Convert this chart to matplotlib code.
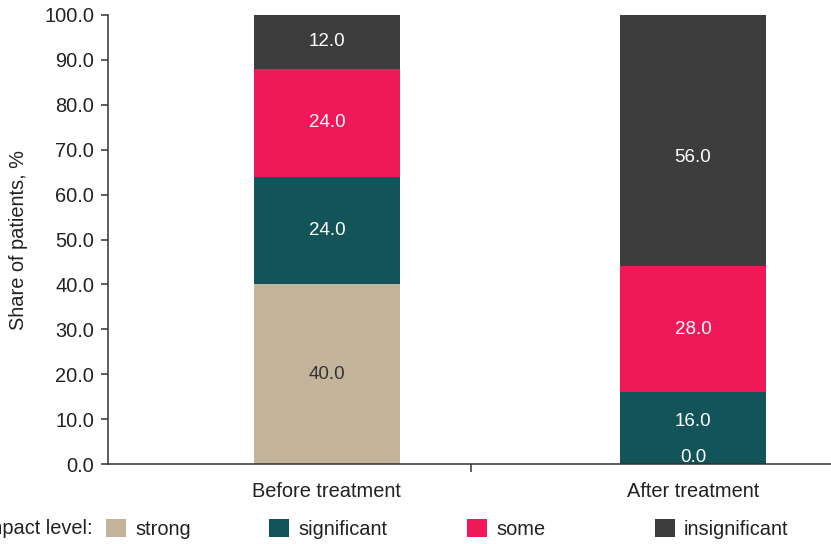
import matplotlib
matplotlib.use('Agg')
import matplotlib.pyplot as plt
from matplotlib.patches import Patch
import numpy as np

plt.rcParams['font.family'] = ['Liberation Sans', 'DejaVu Sans']

# data
categories = ['Before treatment', 'After treatment']
levels = ['strong', 'significant', 'some', 'insignificant']
strong = [40.0, 0.0]
significant = [24.0, 16.0]
some = [24.0, 28.0]
insignificant = [12.0, 56.0]

colors = ['#c4b49b', '#12545a', '#ee1956', '#3d3d3d']
label_colors = ['#333333', 'white', 'white', 'white']
txt = '#222222'
# small label shifts (points) like in the original
nudge = {(1, 'strong'): 5, (1, 'significant'): 5, (1, 'insignificant'): -12}

fig = plt.figure(figsize=(8.31, 5.44), dpi=100)
ax = fig.add_axes([108/831, 1 - 464/544, (831 - 108)/831, (464 - 15)/544])

x = np.arange(len(categories))
bottom = np.zeros(len(categories))
for name, vals, col, lc in zip(levels, [strong, significant, some, insignificant], colors, label_colors):
    vals = np.array(vals)
    ax.bar(x, vals, width=0.4, bottom=bottom, color=col, zorder=2)
    for xi, b, v in zip(x, bottom, vals):
        ax.annotate('%.1f' % v, (xi, b + v / 2), xytext=(0, nudge.get((xi, name), 0)),
                    textcoords='offset points', ha='center', va='center',
                    color='white' if v == 0 else lc, fontsize=13.5)
    bottom += vals

ax.set_xlim(-0.598, 1.377)
ax.set_ylim(0, 100)
ax.set_yticks(np.arange(0, 101, 10))
ax.set_yticklabels(['%.1f' % t for t in np.arange(0, 101, 10)])
ax.set_xticks(x)
ax.set_xticklabels(categories)
ax.set_xticks([0.393], minor=True)
ax.tick_params(axis='x', which='major', length=0, pad=13, labelsize=14.4, labelcolor=txt)
ax.tick_params(axis='x', which='minor', length=6, width=1.1, color='#333333')
ax.tick_params(axis='y', length=5, width=1.1, color='#333333', pad=5, labelsize=14.4, labelcolor=txt)

for s in ['top', 'right']:
    ax.spines[s].set_visible(False)
for s in ['left', 'bottom']:
    ax.spines[s].set_color('#333333')
    ax.spines[s].set_linewidth(1.1)
ax.spines['bottom'].set_zorder(3)

ax.set_ylabel('Share of patients, %', fontsize=14.4, color=txt)
ax.yaxis.set_label_coords(-0.111, 0.5)

# legend row (first word is cut by the left edge, as in the original)
ly = 1 - 529/544
fig.text(93/831, ly, 'Impact level:', ha='right', va='center', fontsize=14.4, color=txt)
leg_x = [106/831, 269/831, 467/831, 655/831]
for lx, name, col in zip(leg_x, levels, colors):
    fig.legend(handles=[Patch(facecolor=col)], labels=[name], loc='center left',
               bbox_to_anchor=(lx, ly), frameon=False, fontsize=14.4,
               handlelength=1.0, handleheight=1.0, handletextpad=0.45,
               borderpad=0, borderaxespad=0, labelcolor=txt)

fig.savefig('out.png', dpi=100)
